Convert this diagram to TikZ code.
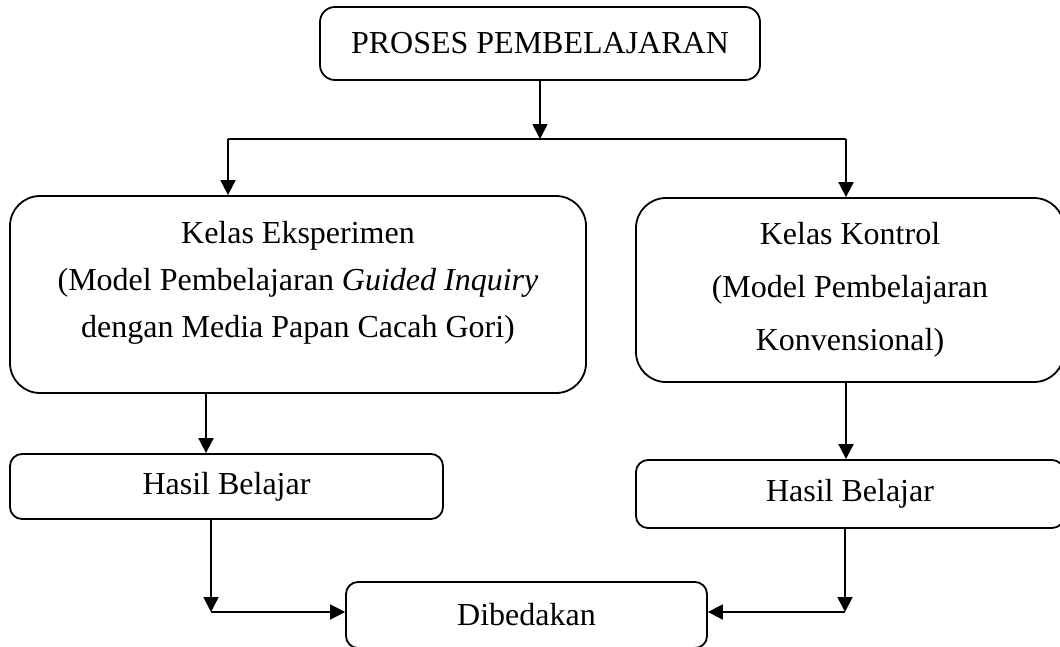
\documentclass[tikz,border=0pt]{standalone}
\usepackage{fontspec}
\setmainfont{Liberation Serif}
\usetikzlibrary{arrows.meta}

\tikzset{
  box/.style={draw, line width=1.8pt, rounded corners=12pt, inner sep=0pt,
    align=center, font=\fontsize{32}{47}\selectfont},
  bigbox/.style={box, rounded corners=30pt},
  arr/.style={-{Triangle[length=15pt,width=15pt]}, line width=1.8pt},
}

\begin{document}
\begin{tikzpicture}[x=1pt,y=-1pt]
  \useasboundingbox (0,0) rectangle (1060,646);
  \node[box, rounded corners=15pt, minimum width=440pt, minimum height=73pt] (proses) at (540,43.5) {PROSES PEMBELAJARAN};
  \node[bigbox, minimum width=576pt, minimum height=197pt, text depth=30pt] (eksperimen) at (298,294.5)
    {Kelas Eksperimen\\(Model Pembelajaran \textit{Guided Inquiry}\\dengan Media Papan Cacah Gori)};
  \node[bigbox, font=\fontsize{32}{53}\selectfont, minimum width=428pt, minimum height=184pt] (kontrol) at (850,290)
    {Kelas Kontrol\\(Model Pembelajaran\\Konvensional)};
  \node[box, minimum width=433pt, minimum height=65pt] (hasilEks) at (226.5,486.5) {Hasil Belajar};
  \node[box, minimum width=428pt, minimum height=68pt] (hasilKon) at (850,494) {Hasil Belajar};
  \node[box, minimum width=361pt, minimum height=66pt] (dibedakan) at (526.5,615) {Dibedakan};

  % percabangan
  \coordinate (split) at (540,139);
  \coordinate (splitL) at (228,139);
  \coordinate (splitR) at (846,139);
  \draw[arr] (proses.south) -- (split);
  \draw[line width=1.8pt] (splitL) -- (splitR);
  \draw[arr] (splitL) -- (splitL |- eksperimen.north);
  \draw[arr] (splitR) -- (splitR |- kontrol.north);

  \draw[arr] ([xshift=-92pt]eksperimen.south) -- ([xshift=-92pt]eksperimen.south |- hasilEks.north);
  \draw[arr] ([xshift=-4pt]kontrol.south) -- ([xshift=-4pt]kontrol.south |- hasilKon.north);

  % ke dibedakan
  \coordinate (joinL) at (211,612);
  \coordinate (joinR) at (845,612);
  \draw[arr] (joinL |- hasilEks.south) -- (joinL);
  \draw[arr] (joinL) -- (joinL -| dibedakan.west);
  \draw[arr] (joinR |- hasilKon.south) -- (joinR);
  \draw[arr] (joinR) -- (joinR -| dibedakan.east);
\end{tikzpicture}
\end{document}
